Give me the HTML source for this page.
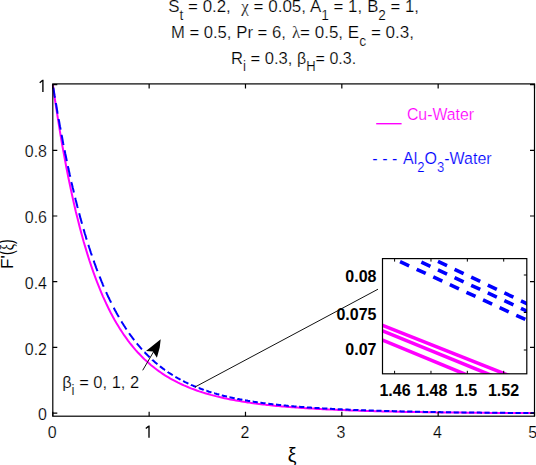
<!DOCTYPE html>
<html><head><meta charset="utf-8"><style>
html,body{margin:0;padding:0;background:#fff;width:536px;height:465px;overflow:hidden}
svg{display:block}
text{font-family:"Liberation Sans",sans-serif}
</style></head><body>
<svg width="536" height="465" viewBox="0 0 536 465">
<rect width="536" height="465" fill="#fff"/>
<path d="M52.8,84.6 L54.7,98.0 L56.7,110.8 L58.6,123.1 L60.5,134.8 L62.4,146.0 L64.4,156.8 L66.3,167.0 L68.2,176.8 L70.2,186.2 L72.1,195.2 L74.0,203.8 L75.9,212.0 L77.9,219.8 L79.8,227.4 L81.7,234.6 L83.6,241.5 L85.6,248.1 L87.5,254.4 L89.4,260.5 L91.4,266.3 L93.3,271.8 L95.2,277.1 L97.1,282.2 L99.1,287.1 L101.0,291.8 L102.9,296.3 L104.9,300.6 L106.8,304.8 L108.7,308.7 L110.6,312.5 L112.6,316.2 L114.5,319.7 L116.4,323.0 L118.4,326.3 L120.3,329.4 L122.2,332.3 L124.1,335.2 L126.1,337.9 L128.0,340.6 L129.9,343.1 L131.9,345.5 L133.8,347.8 L135.7,350.1 L137.6,352.2 L139.6,354.3 L141.5,356.3 L143.4,358.2 L145.3,360.1 L147.3,361.8 L149.2,363.5 L151.1,365.2 L153.1,366.8 L155.0,368.3 L156.9,369.7 L158.8,371.1 L160.8,372.5 L162.7,373.8 L164.6,375.1 L166.6,376.3 L168.5,377.4 L170.4,378.6 L172.3,379.6 L174.3,380.7 L176.2,381.7 L178.1,382.7 L180.1,383.6 L182.0,384.5 L183.9,385.4 L185.8,386.2 L187.8,387.0 L189.7,387.8 L191.6,388.6 L193.6,389.3 L195.5,390.0 L197.4,390.7 L199.3,391.4 L201.3,392.0 L203.2,392.6 L205.1,393.2 L207.0,393.8 L209.0,394.3 L210.9,394.9 L212.8,395.4 L214.8,395.9 L216.7,396.4 L218.6,396.8 L220.5,397.3 L222.5,397.7 L224.4,398.2 L226.3,398.6 L228.3,399.0 L230.2,399.4 L232.1,399.7 L234.0,400.1 L236.0,400.5 L237.9,400.8 L239.8,401.1 L241.8,401.5 L243.7,401.8 L245.6,402.1 L247.5,402.4 L249.5,402.6 L251.4,402.9 L253.3,403.2 L255.2,403.5 L257.2,403.7 L259.1,403.9 L261.0,404.2 L263.0,404.4 L264.9,404.6 L266.8,404.9 L268.7,405.1 L270.7,405.3 L272.6,405.5 L274.5,405.7 L276.5,405.9 L278.4,406.0 L280.3,406.2 L282.2,406.4 L284.2,406.6 L286.1,406.7 L288.0,406.9 L290.0,407.0 L291.9,407.2 L293.8,407.3 L295.7,407.5 L297.7,407.6 L299.6,407.8 L301.5,407.9 L303.5,408.0 L305.4,408.2 L307.3,408.3 L309.2,408.4 L311.2,408.5 L313.1,408.6 L315.0,408.7 L316.9,408.9 L318.9,409.0 L320.8,409.1 L322.7,409.2 L324.7,409.3 L326.6,409.4 L328.5,409.5 L330.4,409.5 L332.4,409.6 L334.3,409.7 L336.2,409.8 L338.2,409.9 L340.1,410.0 L342.0,410.1 L343.9,410.1 L345.9,410.2 L347.8,410.3 L349.7,410.4 L351.7,410.4 L353.6,410.5 L355.5,410.6 L357.4,410.6 L359.4,410.7 L361.3,410.8 L363.2,410.8 L365.1,410.9 L367.1,410.9 L369.0,411.0 L370.9,411.0 L372.9,411.1 L374.8,411.2 L376.7,411.2 L378.6,411.3 L380.6,411.3 L382.5,411.4 L384.4,411.4 L386.4,411.5 L388.3,411.5 L390.2,411.5 L392.1,411.6 L394.1,411.6 L396.0,411.7 L397.9,411.7 L399.9,411.8 L401.8,411.8 L403.7,411.8 L405.6,411.9 L407.6,411.9 L409.5,411.9 L411.4,412.0 L413.4,412.0 L415.3,412.0 L417.2,412.1 L419.1,412.1 L421.1,412.1 L423.0,412.2 L424.9,412.2 L426.8,412.2 L428.8,412.3 L430.7,412.3 L432.6,412.3 L434.6,412.3 L436.5,412.4 L438.4,412.4 L440.3,412.4 L442.3,412.4 L444.2,412.5 L446.1,412.5 L448.1,412.5 L450.0,412.5 L451.9,412.5 L453.8,412.6 L455.8,412.6 L457.7,412.6 L459.6,412.6 L461.6,412.6 L463.5,412.7 L465.4,412.7 L467.3,412.7 L469.3,412.7 L471.2,412.7 L473.1,412.7 L475.1,412.8 L477.0,412.8 L478.9,412.8 L480.8,412.8 L482.8,412.8 L484.7,412.8 L486.6,412.8 L488.5,412.8 L490.5,412.9 L492.4,412.9 L494.3,412.9 L496.3,412.9 L498.2,412.9 L500.1,412.9 L502.0,412.9 L504.0,412.9 L505.9,412.9 L507.8,412.9 L509.8,412.9 L511.7,413.0 L513.6,413.0 L515.5,413.0 L517.5,413.0 L519.4,413.0 L521.3,413.0 L523.3,413.0 L525.2,413.0 L527.1,413.0 L529.0,413.0 L531.0,413.0 L532.9,413.0 L534.5,413.0" fill="none" stroke="#ff00ff" stroke-width="2"/>
<path d="M53.3,87.6 L53.4,88.1 L53.7,90.0 L54.0,92.0 L54.3,93.9 L54.6,95.9 L55.0,97.8M55.9,103.0 L55.9,103.5 L56.3,105.3 L56.6,107.2 L56.9,109.1 L57.2,110.9 L57.5,112.7 L57.7,113.6M58.7,119.0 L58.7,119.5 L59.1,121.3 L59.4,123.0 L59.7,124.8 L60.0,126.5 L60.4,128.3 L60.6,129.6M61.6,134.7 L61.6,135.1 L62.0,136.8 L62.3,138.4 L62.6,140.1 L62.9,141.8 L63.2,143.4 L63.6,145.0M64.6,150.3 L64.7,150.7 L65.0,152.3 L65.3,153.8 L65.8,155.9 L66.2,158.0 L66.6,160.0 L66.8,161.1M67.9,166.1 L68.0,166.6 L68.4,168.6 L68.9,170.6 L69.3,172.5 L69.7,174.4 L70.2,176.4 L70.3,176.8M71.4,182.0 L71.5,182.5 L72.0,184.4 L72.4,186.2 L72.8,188.0 L73.3,189.8 L73.7,191.6 L73.9,192.5M75.2,197.8 L75.3,198.2 L75.7,199.9 L76.2,201.7 L76.6,203.4 L77.0,205.0 L77.4,206.7 L77.8,208.0M79.2,213.3 L79.3,213.7 L79.7,215.3 L80.1,216.8 L80.5,218.4 L81.0,220.0 L81.4,221.5 L81.8,223.0 L82.0,223.8M83.5,229.1 L83.6,229.4 L84.1,230.9 L84.5,232.4 L84.9,233.8 L85.4,235.2 L85.8,236.6 L86.2,238.1 L86.7,239.6M88.3,244.8 L88.5,245.3 L89.1,247.3 L89.8,249.2 L90.4,251.2 L91.0,253.1 L91.7,255.0 L91.8,255.5M93.6,260.6 L93.8,261.0 L94.4,262.9 L95.1,264.6 L95.7,266.4 L96.3,268.1 L97.0,269.9 L97.5,271.1M99.6,276.5 L99.7,276.9 L100.4,278.5 L101.0,280.1 L101.6,281.7 L102.3,283.2 L102.9,284.8 L103.6,286.3 L103.7,286.6M106.1,292.1 L106.3,292.5 L106.9,293.9 L107.6,295.3 L108.2,296.7 L108.9,298.0 L109.5,299.4 L110.2,300.7 L110.8,302.0 L111.1,302.7M113.7,307.7 L113.9,308.0 L114.5,309.2 L115.1,310.4 L115.8,311.6 L116.4,312.8 L117.1,314.0 L117.7,315.1 L118.4,316.2 L118.8,317.1M121.4,321.4 L121.6,321.7 L122.2,322.7 L122.9,323.8 L123.5,324.8 L124.1,325.8 L124.8,326.8 L125.4,327.8 L126.1,328.8 L126.5,329.5M129.1,333.2 L129.3,333.5 L129.9,334.4 L130.6,335.3 L131.2,336.1 L131.9,337.0 L132.5,337.9 L133.1,338.7 L133.8,339.6 L134.3,340.2M136.8,343.4 L137.0,343.6 L137.6,344.4 L138.3,345.2 L138.9,345.9 L139.6,346.7 L140.2,347.4 L140.8,348.1 L141.5,348.9 L142.0,349.4M144.5,352.2 L144.7,352.3 L145.3,353.0 L146.0,353.7 L146.6,354.3 L147.3,355.0 L147.9,355.6 L148.6,356.3 L149.2,356.9 L149.7,357.3M152.3,359.7 L152.4,359.9 L153.1,360.5 L153.7,361.0 L154.3,361.6 L155.0,362.2 L155.6,362.7 L156.3,363.3 L156.9,363.8 L157.4,364.2M160.0,366.3 L160.1,366.4 L160.8,366.9 L161.4,367.4 L162.1,367.9 L162.7,368.4 L163.3,368.8 L164.0,369.3 L164.6,369.8 L165.1,370.1M167.7,371.9 L167.8,372.0 L168.5,372.5 L169.1,372.9 L169.8,373.3 L170.4,373.7 L171.1,374.1 L171.7,374.5 L172.3,374.9 L172.8,375.2M175.4,376.8 L175.6,376.9 L176.2,377.3 L176.8,377.6 L177.5,378.0 L178.1,378.4 L178.8,378.7 L179.4,379.1 L180.1,379.4 L180.5,379.7M183.1,381.0 L183.3,381.1 L183.9,381.4 L184.6,381.8 L185.2,382.1 L185.8,382.4 L186.5,382.7 L187.1,383.0 L187.8,383.3 L188.4,383.6M191.0,384.8 L191.1,384.9 L191.8,385.1 L192.4,385.4 L193.1,385.7 L193.7,386.0 L194.4,386.2 L195.0,386.5 L195.6,386.8 L196.1,387.0M198.7,388.0 L198.9,388.0 L199.5,388.3 L200.1,388.5 L200.8,388.8 L201.4,389.0 L202.1,389.2 L202.7,389.5 L203.4,389.7 L203.8,389.9M206.4,390.8 L206.6,390.8 L207.2,391.0 L207.9,391.2 L208.5,391.5 L209.1,391.7 L209.8,391.9 L210.4,392.1 L211.1,392.3 L211.5,392.4M214.1,393.2 L214.3,393.2 L214.9,393.4 L215.6,393.6 L216.2,393.8 L216.8,394.0 L217.5,394.2 L218.1,394.3 L218.8,394.5 L219.3,394.6M221.8,395.3 L222.0,395.4 L222.6,395.5 L223.3,395.7 L223.9,395.9 L224.6,396.0 L225.2,396.2 L225.8,396.3 L226.5,396.5 L227.0,396.6M229.5,397.2 L229.7,397.2 L230.3,397.4 L231.0,397.5 L231.6,397.7 L232.3,397.8 L232.9,397.9 L233.6,398.1 L234.2,398.2 L234.7,398.3M237.3,398.8 L237.4,398.9 L238.1,399.0 L238.7,399.1 L239.3,399.2 L240.0,399.4 L240.6,399.5 L241.3,399.6 L241.9,399.7 L242.4,399.8M245.0,400.3 L245.1,400.3 L245.8,400.4 L246.4,400.5 L247.1,400.6 L247.7,400.8 L248.3,400.9 L249.0,401.0 L249.6,401.1 L250.1,401.2M252.7,401.6 L252.8,401.6 L253.5,401.7 L254.1,401.8 L254.8,401.9 L255.4,402.0 L256.1,402.1 L256.7,402.2 L257.3,402.3 L257.8,402.3M260.4,402.7 L260.6,402.7 L261.2,402.8 L261.8,402.9 L262.5,403.0 L263.1,403.1 L263.8,403.2 L264.4,403.2 L265.1,403.3 L265.5,403.4M268.3,403.7 L268.4,403.7 L269.1,403.8 L269.7,403.9 L270.4,404.0 L271.0,404.0 L271.6,404.1 L272.3,404.2 L272.9,404.3 L273.4,404.3M276.0,404.6 L276.1,404.6 L276.8,404.7 L277.4,404.8 L278.1,404.8 L278.7,404.9 L279.4,405.0 L280.0,405.0 L280.6,405.1 L281.1,405.2M283.7,405.4 L283.8,405.4 L284.5,405.5 L285.1,405.6 L285.8,405.6 L286.4,405.7 L287.1,405.7 L287.7,405.8 L288.3,405.9 L288.8,405.9M291.4,406.1 L291.6,406.1 L292.2,406.2 L292.8,406.3 L293.5,406.3 L294.1,406.4 L294.8,406.4 L295.4,406.5 L296.1,406.5 L296.5,406.6M299.1,406.8 L299.3,406.8 L299.9,406.8 L300.6,406.9 L301.2,406.9 L301.8,407.0 L302.5,407.0 L303.1,407.1 L303.8,407.1 L304.3,407.2M306.8,407.3 L307.0,407.4 L307.6,407.4 L308.3,407.4 L308.9,407.5 L309.6,407.5 L310.2,407.6 L310.8,407.6 L311.5,407.7 L312.0,407.7M314.5,407.9 L314.7,407.9 L315.3,407.9 L316.0,408.0 L316.6,408.0 L317.3,408.0 L317.9,408.1 L318.6,408.1 L319.2,408.2 L319.7,408.2M322.2,408.3 L322.4,408.3 L323.1,408.4 L323.7,408.4 L324.3,408.5 L325.0,408.5 L325.6,408.5 L326.3,408.6 L326.9,408.6 L327.4,408.6M330.0,408.8 L330.1,408.8 L330.8,408.8 L331.4,408.8 L332.1,408.9 L332.7,408.9 L333.3,408.9 L334.0,409.0 L334.6,409.0 L335.1,409.0M337.7,409.2 L337.8,409.2 L338.5,409.2 L339.1,409.2 L339.8,409.3 L340.4,409.3 L341.0,409.3 L341.7,409.3 L342.3,409.4 L342.8,409.4M345.4,409.5 L345.5,409.5 L346.2,409.6 L346.8,409.6 L347.5,409.6 L348.1,409.6 L348.8,409.7 L349.4,409.7 L350.0,409.7 L350.7,409.7M353.3,409.8 L353.4,409.9 L354.1,409.9 L354.7,409.9 L355.3,409.9 L356.0,410.0 L356.6,410.0 L357.3,410.0 L357.9,410.0 L358.4,410.1M361.0,410.1 L361.1,410.2 L361.8,410.2 L362.4,410.2 L363.1,410.2 L363.7,410.2 L364.3,410.3 L365.0,410.3 L365.6,410.3 L366.1,410.3M368.7,410.4 L368.8,410.4 L369.5,410.4 L370.1,410.5 L370.8,410.5 L371.4,410.5 L372.1,410.5 L372.7,410.6 L373.3,410.6 L373.8,410.6M376.4,410.7 L376.6,410.7 L377.2,410.7 L377.8,410.7 L378.5,410.7 L379.1,410.8 L379.8,410.8 L380.4,410.8 L381.1,410.8 L381.5,410.8M384.1,410.9 L384.3,410.9 L384.9,410.9 L385.6,411.0 L386.2,411.0 L386.8,411.0 L387.5,411.0 L388.1,411.0 L388.8,411.0 L389.3,411.1M391.8,411.1 L392.0,411.1 L392.6,411.1 L393.3,411.2 L393.9,411.2 L394.6,411.2 L395.2,411.2 L395.8,411.2 L396.5,411.2 L397.0,411.3M399.5,411.3 L399.7,411.3 L400.3,411.3 L401.0,411.4 L401.6,411.4 L402.3,411.4 L402.9,411.4 L403.6,411.4 L404.2,411.4 L404.7,411.4M407.2,411.5 L407.4,411.5 L408.0,411.5 L408.7,411.5 L409.3,411.6 L410.0,411.6 L410.6,411.6 L411.3,411.6 L411.9,411.6 L412.4,411.6M415.0,411.7 L415.1,411.7 L415.8,411.7 L416.4,411.7 L417.0,411.7 L417.7,411.7 L418.3,411.7 L419.0,411.8 L419.6,411.8 L420.1,411.8M422.7,411.8 L422.8,411.8 L423.5,411.8 L424.1,411.9 L424.8,411.9 L425.4,411.9 L426.0,411.9 L426.7,411.9 L427.3,411.9 L428.0,411.9M430.5,412.0 L430.7,412.0 L431.3,412.0 L432.0,412.0 L432.6,412.0 L433.3,412.0 L433.9,412.0 L434.6,412.0 L435.2,412.1 L435.7,412.1M438.3,412.1 L438.4,412.1 L439.1,412.1 L439.7,412.1 L440.3,412.1 L441.0,412.2 L441.6,412.2 L442.3,412.2 L442.9,412.2 L443.4,412.2M446.0,412.2 L446.1,412.2 L446.8,412.2 L447.4,412.3 L448.1,412.3 L448.7,412.3 L449.3,412.3 L450.0,412.3 L450.6,412.3 L451.1,412.3M453.7,412.3 L453.8,412.3 L454.5,412.4 L455.1,412.4 L455.8,412.4 L456.4,412.4 L457.1,412.4 L457.7,412.4 L458.3,412.4 L458.8,412.4M461.4,412.4 L461.6,412.4 L462.2,412.5 L462.8,412.5 L463.5,412.5 L464.1,412.5 L464.8,412.5 L465.4,412.5 L466.1,412.5 L466.5,412.5M469.1,412.5 L469.3,412.5 L469.9,412.5 L470.6,412.5 L471.2,412.6 L471.8,412.6 L472.5,412.6 L473.1,412.6 L473.8,412.6 L474.2,412.6M476.8,412.6 L477.0,412.6 L477.6,412.6 L478.3,412.6 L478.9,412.6 L479.5,412.6 L480.2,412.6 L480.8,412.7 L481.5,412.7 L482.0,412.7M484.5,412.7 L484.7,412.7 L485.3,412.7 L486.0,412.7 L486.6,412.7 L487.3,412.7 L487.9,412.7 L488.5,412.7 L489.2,412.7 L489.7,412.7M492.2,412.8 L492.4,412.8 L493.0,412.8 L493.7,412.8 L494.3,412.8 L495.0,412.8 L495.6,412.8 L496.3,412.8 L496.9,412.8 L497.4,412.8M500.0,412.8 L500.1,412.8 L500.8,412.8 L501.4,412.8 L502.0,412.8 L502.7,412.8 L503.3,412.8 L504.0,412.8 L504.6,412.8 L505.3,412.8M507.8,412.9 L508.0,412.9 L508.6,412.9 L509.3,412.9 L509.9,412.9 L510.6,412.9 L511.2,412.9 L511.8,412.9 L512.5,412.9 L513.0,412.9M515.5,412.9 L515.7,412.9 L516.3,412.9 L517.0,412.9 L517.6,412.9 L518.3,412.9 L518.9,412.9 L519.6,412.9 L520.2,412.9 L520.7,412.9M523.3,412.9 L523.4,412.9 L524.1,412.9 L524.7,412.9 L525.3,413.0 L526.0,413.0 L526.6,413.0 L527.3,413.0 L527.9,413.0 L528.4,413.0M531.0,413.0 L531.1,413.0 L531.8,413.0 L532.4,413.0 L533.1,413.0 L533.7,413.0 L534.3,413.0 L534.5,413.0" fill="none" stroke="#0000ff" stroke-width="2"/>
<rect x="52.8" y="83.9" width="481.7" height="332.3" fill="none" stroke="#000" stroke-width="1.2"/>
<path d="M52.80,416.2V411.7M52.80,83.9V88.4" stroke="#000" stroke-width="1.2"/>
<path d="M52.8,413.10H57.3M534.5,413.10H530.0" stroke="#000" stroke-width="1.2"/>
<path d="M149.14,416.2V411.7M149.14,83.9V88.4" stroke="#000" stroke-width="1.2"/>
<path d="M52.8,347.40H57.3M534.5,347.40H530.0" stroke="#000" stroke-width="1.2"/>
<path d="M245.48,416.2V411.7M245.48,83.9V88.4" stroke="#000" stroke-width="1.2"/>
<path d="M52.8,281.70H57.3M534.5,281.70H530.0" stroke="#000" stroke-width="1.2"/>
<path d="M341.82,416.2V411.7M341.82,83.9V88.4" stroke="#000" stroke-width="1.2"/>
<path d="M52.8,216.00H57.3M534.5,216.00H530.0" stroke="#000" stroke-width="1.2"/>
<path d="M438.16,416.2V411.7M438.16,83.9V88.4" stroke="#000" stroke-width="1.2"/>
<path d="M52.8,150.30H57.3M534.5,150.30H530.0" stroke="#000" stroke-width="1.2"/>
<path d="M534.50,416.2V411.7M534.50,83.9V88.4" stroke="#000" stroke-width="1.2"/>
<path d="M52.8,84.60H57.3M534.5,84.60H530.0" stroke="#000" stroke-width="1.2"/>
<text transform="translate(52.20,437.8) scale(0.93,1)" text-anchor="middle" font-size="17.2" font-family="Liberation Sans, sans-serif" stroke="#fff" stroke-width="0.2">0</text>
<path d="M149.00,437.80V425.50M148.80,426.10L145.80,428.50" stroke="#000" stroke-width="1.35" fill="none"/>
<text transform="translate(244.85,437.8) scale(0.93,1)" text-anchor="middle" font-size="17.2" font-family="Liberation Sans, sans-serif" stroke="#fff" stroke-width="0.2">2</text>
<text transform="translate(341.05,437.8) scale(0.93,1)" text-anchor="middle" font-size="17.2" font-family="Liberation Sans, sans-serif" stroke="#fff" stroke-width="0.2">3</text>
<text transform="translate(437.40,437.8) scale(0.93,1)" text-anchor="middle" font-size="17.2" font-family="Liberation Sans, sans-serif" stroke="#fff" stroke-width="0.2">4</text>
<text transform="translate(532.60,437.8) scale(0.93,1)" text-anchor="middle" font-size="17.2" font-family="Liberation Sans, sans-serif" stroke="#fff" stroke-width="0.2">5</text>
<text transform="translate(47.0,420.20) scale(0.93,1)" text-anchor="end" font-size="17.2" font-family="Liberation Sans, sans-serif" stroke="#fff" stroke-width="0.2">0</text>
<text transform="translate(47.0,354.50) scale(0.93,1)" text-anchor="end" font-size="17.2" font-family="Liberation Sans, sans-serif" stroke="#fff" stroke-width="0.2">0.2</text>
<text transform="translate(47.0,288.80) scale(0.93,1)" text-anchor="end" font-size="17.2" font-family="Liberation Sans, sans-serif" stroke="#fff" stroke-width="0.2">0.4</text>
<text transform="translate(47.0,223.10) scale(0.93,1)" text-anchor="end" font-size="17.2" font-family="Liberation Sans, sans-serif" stroke="#fff" stroke-width="0.2">0.6</text>
<text transform="translate(47.0,157.40) scale(0.93,1)" text-anchor="end" font-size="17.2" font-family="Liberation Sans, sans-serif" stroke="#fff" stroke-width="0.2">0.8</text>
<path d="M42.90,92.00V79.70M42.70,80.30L39.70,82.70" stroke="#000" stroke-width="1.35" fill="none"/>
<text transform="translate(168.32,12.4) scale(0.9820,1)" font-size="17.2" fill="#000" font-family="Liberation Sans, sans-serif" stroke="#fff" stroke-width="0.2" xml:space="preserve">S<tspan dy="7.5" font-size="14.0">t</tspan><tspan dy="-7.5"> = 0.2,</tspan></text>
<text transform="translate(241.30,12.4) scale(0.9891,1)" font-size="17.2" fill="#000" font-family="Liberation Sans, sans-serif" stroke="#fff" stroke-width="0.2" xml:space="preserve"><tspan font-family="Liberation Serif">χ</tspan> = 0.05,</text>
<text transform="translate(310.00,12.4) scale(0.9808,1)" font-size="17.2" fill="#000" font-family="Liberation Sans, sans-serif" stroke="#fff" stroke-width="0.2" xml:space="preserve">A<tspan dy="7.5" font-size="14.0">1</tspan><tspan dy="-7.5"> = 1,</tspan></text>
<text transform="translate(367.23,12.4) scale(0.9706,1)" font-size="17.2" fill="#000" font-family="Liberation Sans, sans-serif" stroke="#fff" stroke-width="0.2" xml:space="preserve">B<tspan dy="7.5" font-size="14.0">2</tspan><tspan dy="-7.5"> = 1,</tspan></text>
<text transform="translate(170.93,38.3) scale(0.9683,1)" font-size="17.2" fill="#000" font-family="Liberation Sans, sans-serif" stroke="#fff" stroke-width="0.2" xml:space="preserve">M = 0.5,</text>
<text transform="translate(236.23,38.3) scale(0.9735,1)" font-size="17.2" fill="#000" font-family="Liberation Sans, sans-serif" stroke="#fff" stroke-width="0.2" xml:space="preserve">Pr = 6,</text>
<text transform="translate(291.90,38.3) scale(0.9860,1)" font-size="17.2" fill="#000" font-family="Liberation Sans, sans-serif" stroke="#fff" stroke-width="0.2" xml:space="preserve"><tspan font-family="Liberation Serif">λ</tspan>= 0.5,</text>
<text transform="translate(347.81,38.3) scale(0.9922,1)" font-size="17.2" fill="#000" font-family="Liberation Sans, sans-serif" stroke="#fff" stroke-width="0.2" xml:space="preserve">E<tspan dy="7.5" font-size="14.0">c</tspan><tspan dy="-7.5"> = 0.3,</tspan></text>
<text transform="translate(230.94,63.8) scale(0.9639,1)" font-size="17.2" fill="#000" font-family="Liberation Sans, sans-serif" stroke="#fff" stroke-width="0.2" xml:space="preserve">R<tspan dy="7.5" font-size="14.0">i</tspan><tspan dy="-7.5"> = 0.3,</tspan></text>
<text transform="translate(296.97,63.8) scale(0.9311,1)" font-size="17.2" fill="#000" font-family="Liberation Sans, sans-serif" stroke="#fff" stroke-width="0.2" xml:space="preserve">β<tspan dy="7.5" font-size="14.0">H</tspan><tspan dy="-7.5">= 0.3.</tspan></text>
<text transform="translate(406.88,120.3) scale(0.9222,1)" font-size="17.2" fill="#ff00ff" font-family="Liberation Sans, sans-serif" stroke="#fff" stroke-width="0.2" xml:space="preserve">Cu-Water</text>
<text transform="translate(372.26,164.2) scale(0.9400,1)" font-size="17.2" fill="#0000ff" font-family="Liberation Sans, sans-serif" stroke="#fff" stroke-width="0.2" xml:space="preserve">- - -</text>
<text transform="translate(403.00,164.2) scale(0.9305,1)" font-size="17.2" fill="#0000ff" font-family="Liberation Sans, sans-serif" stroke="#fff" stroke-width="0.2" xml:space="preserve">Al<tspan dy="7.5" font-size="14.0">2</tspan><tspan dy="-7.5">O</tspan><tspan dy="7.5" font-size="14.0">3</tspan><tspan dy="-7.5">-Water</tspan></text>
<text transform="translate(62.14,387.8) scale(0.9582,1)" font-size="17.2" fill="#000" font-family="Liberation Sans, sans-serif" stroke="#fff" stroke-width="0.2" xml:space="preserve">β<tspan dy="7.5" font-size="14.0">i</tspan><tspan dy="-7.5"> = 0, 1, 2</tspan></text>
<path d="M376.2,123.7H401.6" stroke="#ff00ff" stroke-width="1.4"/>
<text x="292.1" y="461.9" text-anchor="middle" font-size="19.5" font-family="Liberation Serif">ξ</text>
<text transform="translate(12.8,269.0) rotate(-90)" font-size="17.2" font-family="Liberation Sans, sans-serif">F'</text>
<text transform="translate(13.2,255.0) rotate(-90) scale(0.72,1)" font-size="19.5" font-family="Liberation Sans, sans-serif">(<tspan font-family="Liberation Serif">ξ</tspan>)</text>
<line x1="142.7" y1="370.3" x2="153.5" y2="351.9" stroke="#111" stroke-width="1"/>
<path d="M160.7,339.3 L159.7,347.6 L156.9,357.8 L152.9,351.6 L146.0,351.1 Z" fill="#000"/>
<line x1="195" y1="387" x2="378" y2="289.2" stroke="#111" stroke-width="1"/>
<rect x="382.5" y="258.6" width="144.3" height="115.2" fill="#fff"/>
<clipPath id="ic"><rect x="382.5" y="258.6" width="144.3" height="115.2"/></clipPath>
<g clip-path="url(#ic)">
<line x1="377.8" y1="323.41" x2="542.8" y2="388.92" stroke="#ff00ff" stroke-width="3.6"/>
<line x1="377.8" y1="328.96" x2="542.8" y2="396.28" stroke="#ff00ff" stroke-width="3.6"/>
<line x1="377.8" y1="338.13" x2="542.8" y2="406.28" stroke="#ff00ff" stroke-width="3.6"/>
<path d="M437.98,261.46L447.02,265.74M454.58,269.33L463.62,273.61M471.18,277.20L480.22,281.48M487.78,285.06L496.82,289.35M504.38,292.93L513.42,297.22M520.98,300.80L530.02,305.08M421.36,262.21L430.44,266.41M437.96,269.90L447.04,274.10M454.56,277.59L463.64,281.79M471.16,285.27L480.24,289.47M487.76,292.96L496.84,297.16M504.36,300.64L513.44,304.84M520.96,308.33L530.04,312.53M400.06,261.60L409.14,265.80M416.66,269.27L425.74,273.47M433.26,276.94L442.34,281.14M449.86,284.61L458.94,288.80M466.46,292.28L475.54,296.47M483.06,299.95L492.14,304.14M499.66,307.62L508.74,311.81M516.26,315.29L525.34,319.48M532.86,322.96L541.94,327.15" stroke="#0000ff" stroke-width="3.6"/>
</g>
<rect x="382.5" y="258.6" width="144.3" height="115.2" fill="none" stroke="#000" stroke-width="1.2"/>
<path d="M394.60,373.8V370.8M394.60,258.6V261.6" stroke="#000" stroke-width="1"/>
<path d="M430.97,373.8V370.8M430.97,258.6V261.6" stroke="#000" stroke-width="1"/>
<path d="M467.34,373.8V370.8M467.34,258.6V261.6" stroke="#000" stroke-width="1"/>
<path d="M503.71,373.8V370.8M503.71,258.6V261.6" stroke="#000" stroke-width="1"/>
<path d="M526.8,350.00H523.8" stroke="#000" stroke-width="1"/>
<path d="M526.8,312.50H523.8" stroke="#000" stroke-width="1"/>
<path d="M526.8,275.00H523.8" stroke="#000" stroke-width="1"/>
<text x="395.00" y="395.6" text-anchor="middle" font-size="16" font-weight="bold" font-family="Liberation Sans, sans-serif">1.46</text>
<text x="431.80" y="395.6" text-anchor="middle" font-size="16" font-weight="bold" font-family="Liberation Sans, sans-serif">1.48</text>
<text x="466.00" y="395.6" text-anchor="middle" font-size="16" font-weight="bold" font-family="Liberation Sans, sans-serif">1.5</text>
<text x="503.50" y="395.6" text-anchor="middle" font-size="16" font-weight="bold" font-family="Liberation Sans, sans-serif">1.52</text>
<text x="376.5" y="355.2" text-anchor="end" font-size="16" font-weight="bold" font-family="Liberation Sans, sans-serif">0.07</text>
<text x="376.5" y="319.7" text-anchor="end" font-size="16" font-weight="bold" font-family="Liberation Sans, sans-serif">0.075</text>
<text x="376.5" y="282.1" text-anchor="end" font-size="16" font-weight="bold" font-family="Liberation Sans, sans-serif">0.08</text>
</svg>
</body></html>
